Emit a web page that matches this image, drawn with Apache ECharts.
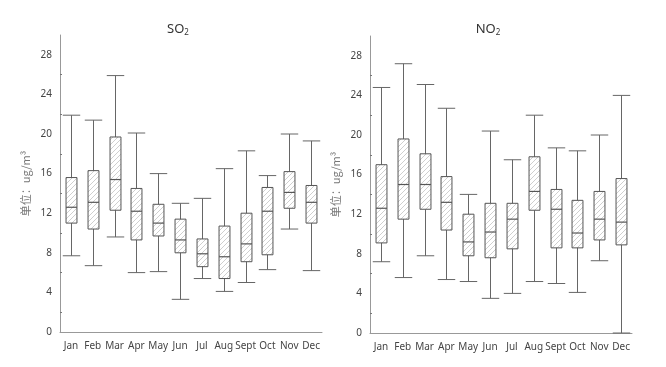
<!DOCTYPE html>
<html>
<head>
<meta charset="utf-8">
<script src="https://cdn.jsdelivr.net/npm/echarts@6/dist/echarts.min.js"></script>
<style>html,body{margin:0;padding:0;background:#fff}#c{width:666px;height:367px}</style>
</head>
<body>
<div id="c"></div>
<script>
// Categories
const months = ['Jan','Feb','Mar','Apr','May','Jun','Jul','Aug','Sept','Oct','Nov','Dec'];
// SO2: [min, Q1, median, Q3, max] per month
const so2 = [
  [7.7, 11.0, 12.6, 15.6, 21.9],
  [6.7, 10.4, 13.1, 16.3, 21.4],
  [9.6, 12.3, 15.4, 19.7, 25.9],
  [6.0, 9.3, 12.2, 14.5, 20.1],
  [6.1, 9.7, 11.0, 12.9, 16.0],
  [3.3, 8.0, 9.3, 11.4, 13.0],
  [5.4, 6.6, 7.9, 9.4, 13.5],
  [4.1, 5.4, 7.6, 10.7, 16.5],
  [5.0, 7.1, 8.9, 12.0, 18.3],
  [6.3, 7.8, 12.2, 14.6, 15.8],
  [10.4, 12.5, 14.1, 16.2, 20.0],
  [6.2, 11.0, 13.1, 14.8, 19.3]
];
// NO2: [min, Q1, median, Q3, max] per month
const no2 = [
  [7.2, 9.1, 12.6, 17.0, 24.8],
  [5.6, 11.5, 15.0, 19.6, 27.2],
  [7.8, 12.5, 15.0, 18.1, 25.1],
  [5.4, 10.4, 13.2, 15.8, 22.7],
  [5.2, 7.8, 9.2, 12.0, 14.0],
  [3.5, 7.6, 10.2, 13.1, 20.4],
  [4.0, 8.5, 11.5, 13.1, 17.5],
  [5.2, 12.4, 14.3, 17.8, 22.0],
  [5.0, 8.6, 12.5, 14.5, 18.7],
  [4.1, 8.6, 10.1, 13.4, 18.4],
  [7.3, 9.4, 11.5, 14.3, 20.0],
  [0.0, 8.9, 11.2, 15.6, 24.0]
];
// Axis tick labels
const yLabels = [0, 4, 8, 12, 16, 20, 24, 28];
const yMinorTicks = [2, 6, 10, 14, 18, 22, 26];

// hatch pattern
const pc = document.createElement('canvas');
pc.width = 5; pc.height = 5;
const g = pc.getContext('2d');
g.strokeStyle = '#cfcfcf';
g.lineWidth = 1;
g.beginPath();
g.moveTo(-1, 6); g.lineTo(6, -1);
g.moveTo(-1, 1); g.lineTo(1, -1);
g.moveTo(4, 6); g.lineTo(6, 4);
g.stroke();

const lineCol = '#666';

function renderBox(params, api) {
  const x = api.value(0);
  const pMin = api.coord([x, api.value(1)]);
  const pQ1 = api.coord([x, api.value(2)]);
  const pMed = api.coord([x, api.value(3)]);
  const pQ3 = api.coord([x, api.value(4)]);
  const pMax = api.coord([x, api.value(5)]);
  const band = api.size([1, 0])[0];
  const bw = band * 0.5, cw = band * 0.8;
  const cx = Math.round(pMin[0]) + 0.5;
  const st = {stroke: lineCol, lineWidth: 1};
  return {
    type: 'group',
    children: [
      {type: 'line', shape: {x1: cx, y1: pMax[1], x2: cx, y2: pQ3[1]}, style: st},
      {type: 'line', shape: {x1: cx, y1: pQ1[1], x2: cx, y2: pMin[1]}, style: st},
      {type: 'line', shape: {x1: cx - cw / 2, y1: pMax[1], x2: cx + cw / 2, y2: pMax[1]}, style: st},
      {type: 'line', shape: {x1: cx - cw / 2, y1: pMin[1], x2: cx + cw / 2, y2: pMin[1]}, style: st},
      {type: 'rect', shape: {x: cx - bw / 2, y: pQ3[1], width: bw, height: pQ1[1] - pQ3[1]},
        style: {fill: {image: pc, repeat: 'repeat'}, stroke: '#555', lineWidth: 1}},
      {type: 'line', shape: {x1: cx - bw / 2, y1: pMed[1], x2: cx + bw / 2, y2: pMed[1]}, style: {stroke: '#555', lineWidth: 1.2}}
    ]
  };
}

function toData(arr) {
  return arr.map((d, i) => [i].concat(d));
}

const axisTxt = {color: '#444', fontSize: 10, fontFamily: 'Noto Sans'};
function yAxis(idx) {
  return {
    type: 'value', gridIndex: idx, min: 0, max: 30, interval: 2,
    name: '单位：ug/m³', nameLocation: 'middle', nameGap: 29, nameRotate: 90,
    nameTextStyle: {color: '#777', fontSize: 11, fontFamily: 'Noto Sans CJK SC'},
    axisLine: {show: true, lineStyle: {color: '#999'}},
    axisTick: {show: true, inside: true, length: 2, customValues: yMinorTicks, lineStyle: {color: '#777'}},
    axisLabel: Object.assign({customValues: yLabels, margin: 8}, axisTxt),
    splitLine: {show: false}
  };
}
function xAxis(idx) {
  return {
    type: 'category', gridIndex: idx, data: months, boundaryGap: true,
    axisLine: {lineStyle: {color: '#999'}},
    axisTick: {alignWithLabel: true, length: 4, lineStyle: {color: '#777'}},
    axisLabel: Object.assign({margin: 9, interval: 0}, axisTxt),
    splitLine: {show: false}
  };
}

const chart = echarts.init(document.getElementById('c'), null, {renderer: 'canvas'});
const titleRich = {
  a: {fontSize: 13, color: '#333', fontFamily: 'Noto Sans', fontWeight: 'normal'},
  b: {fontSize: 8, color: '#333', fontFamily: 'Noto Sans', fontWeight: 'normal', padding: [7, 0, 0, 0]}
};
chart.setOption({
  animation: false,
  title: [
    {text: '{a|SO}{b|2}', left: 173, top: 17, textAlign: 'center', textStyle: {fontWeight: 'normal', rich: titleRich}},
    {text: '{a|NO}{b|2}', left: 483, top: 17, textAlign: 'center', textStyle: {fontWeight: 'normal', rich: titleRich}}
  ],
  grid: [
    {left: 60, width: 262, top: 35, bottom: 35},
    {left: 370, width: 262, top: 36, bottom: 34}
  ],
  xAxis: [xAxis(0), xAxis(1)],
  yAxis: [yAxis(0), yAxis(1)],
  series: [
    {type: 'custom', xAxisIndex: 0, yAxisIndex: 0, renderItem: renderBox,
      encode: {x: 0, y: [1, 2, 3, 4, 5]}, data: toData(so2)},
    {type: 'custom', xAxisIndex: 1, yAxisIndex: 1, renderItem: renderBox,
      encode: {x: 0, y: [1, 2, 3, 4, 5]}, data: toData(no2)}
  ]
});
</script>
</body>
</html>
